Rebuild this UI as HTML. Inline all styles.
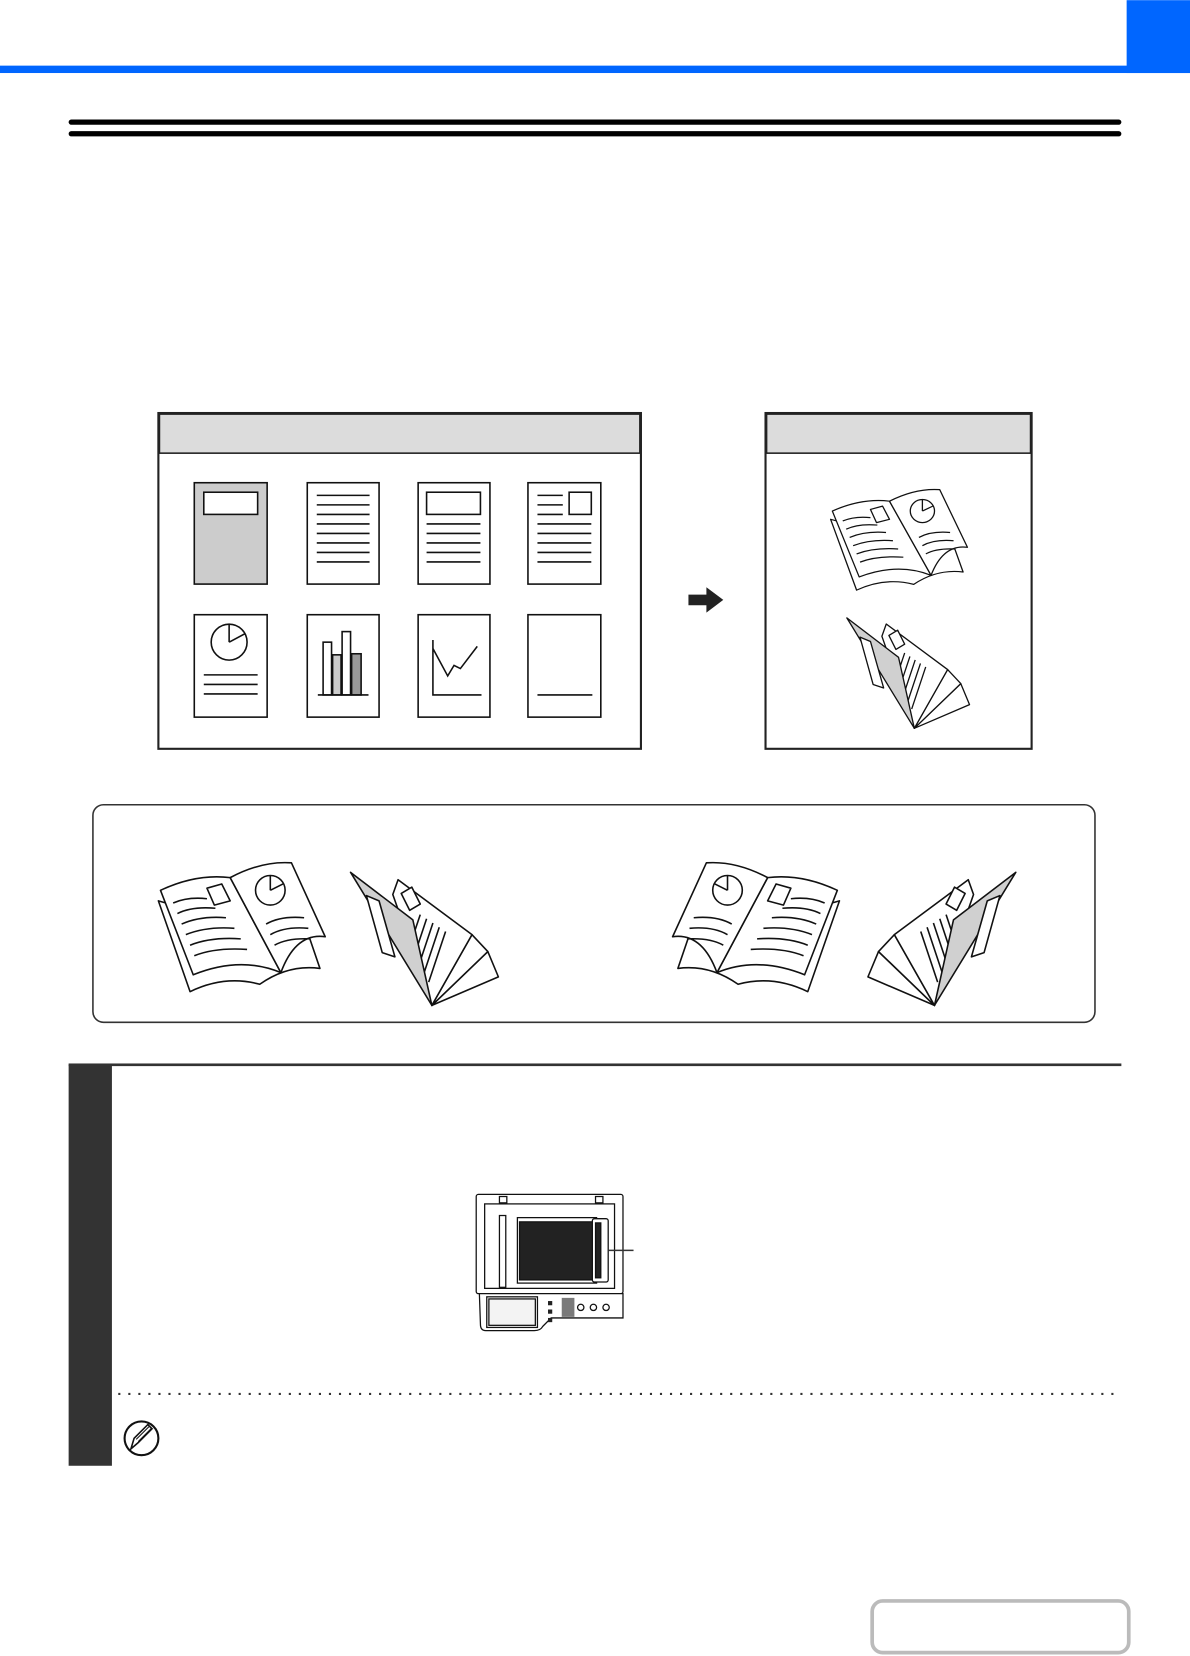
<!DOCTYPE html>
<html><head><meta charset="utf-8"><style>
html,body{margin:0;padding:0;background:#fff}
svg{display:block}
</style></head><body>
<svg width="1190" height="1656" viewBox="0 0 1127 1568" xmlns="http://www.w3.org/2000/svg">
<defs>
<g id="book" fill="#fff" stroke="#111" stroke-width="1.5" stroke-linejoin="round">
<path d="M2,38 L32,124 Q65,108 98,117 Q125,98 155,102 L140,58 L80,60 Z"/>
<path d="M4,28 Q38,12 70,16 L118,106 Q80,90 35,108 Z"/>
<path d="M70,16 Q100,0 128,2 L160,72 Q132,68 118,106 Z"/>
<g fill="none">
<path d="M16,40 Q30,34 48,36"/><path d="M20,50 Q34,43 56,45"/><path d="M24,60 Q42,52 66,54"/><path d="M28,70 Q48,62 74,64"/><path d="M32,80 Q52,72 80,74"/><path d="M36,90 Q56,82 86,84"/>
<path d="M104,60 Q118,52 140,54"/><path d="M108,70 Q122,62 144,64"/><path d="M112,80 Q124,73 146,74"/>
</g>
<path d="M48,26 L62,22 L70,38 L55,42 Z"/>
<circle cx="108" cy="28" r="14"/><path d="M108,28 L108,14 M108,28 L120,22" fill="none"/>
</g>
<g id="fold" stroke="#111" stroke-width="1.5" stroke-linejoin="round">
<path d="M77,126 L130,75 L140,99 Z" fill="#fff"/>
<path d="M77,126 L115,59 L130,75 Z" fill="#fff"/>
<path d="M45,7 L115,59 L77,126 L40,21 Z" fill="#fff"/>
<path d="M48,20 L58,14 L66,30 L56,36 Z" fill="#fff"/>
<g fill="none"><path d="M66,40 L58,64"/><path d="M72,44 L62,74"/><path d="M78,48 L66,84"/><path d="M84,52 L70,94"/><path d="M90,56 L74,104"/></g>
<path d="M0,0 L59,45 L77,126 Z" fill="#d0d0d0"/>
<path d="M15,22 L27,27 L42,80 L30,76 Z" fill="#fff"/>
</g>
<g id="page" fill="#fff" stroke="#111" stroke-width="1.5"><rect x="0" y="0" width="69" height="96"/></g>
</defs>

<!-- header -->
<rect x="0" y="62" width="1127" height="7" fill="#0066ff"/>
<rect x="1067" y="0" width="60" height="69" fill="#0066ff"/>
<rect x="65" y="113" width="997" height="5" rx="2.5" fill="#000"/>
<rect x="65" y="124" width="997" height="5" rx="2.5" fill="#000"/>

<!-- left box -->
<rect x="150" y="391" width="457" height="318" fill="#fff" stroke="#222" stroke-width="2"/>
<rect x="151" y="392" width="455" height="37" fill="#dcdcdc" stroke="#222" stroke-width="1.5"/>
<g stroke="#111" stroke-width="1.5" fill="none">
<rect x="184" y="457" width="69" height="96" fill="#cccccc"/>
<rect x="193" y="466" width="51" height="21" fill="#fff"/>
<rect x="291" y="457" width="68" height="96" fill="#fff"/>
<path d="M300,469h50M300,478h50M300,487h50M300,496h50M300,505h50M300,514h50M300,523h50M300,532h50"/>
<rect x="396" y="457" width="68" height="96" fill="#fff"/>
<rect x="404" y="466" width="51" height="21"/>
<path d="M404,496h51M404,505h51M404,514h51M404,523h51M404,532h51"/>
<rect x="500" y="457" width="69" height="96" fill="#fff"/>
<rect x="539" y="466" width="21" height="21"/>
<path d="M509,469h24M509,478h24M509,487h24M509,496h51M509,505h51M509,514h51M509,523h51M509,532h51"/>
<rect x="184" y="582" width="69" height="97" fill="#fff"/>
<circle cx="217" cy="608" r="17"/><path d="M217,608V591M217,608L232,600"/>
<path d="M193,639h51M193,648h51M193,657h51"/>
<rect x="291" y="582" width="68" height="97" fill="#fff"/>
<rect x="306" y="608" width="8" height="50"/><rect x="315" y="620" width="8" height="38" fill="#ccc"/><rect x="324" y="598" width="8" height="60"/><rect x="333" y="619" width="9" height="39" fill="#999"/>
<path d="M301,658h48"/>
<rect x="396" y="582" width="68" height="97" fill="#fff"/>
<path d="M410,606V658H456M410,614L424,640L430,630L436,633L452,612"/>
<rect x="500" y="582" width="69" height="97" fill="#fff"/>
<path d="M509,658h52"/>
</g>

<!-- arrow -->
<path d="M652,563 H669 V556 L685,568 L669,580 V573 H652 Z" fill="#222"/>

<!-- right box -->
<rect x="725" y="391" width="252" height="318" fill="#fff" stroke="#222" stroke-width="2"/>
<rect x="726" y="392" width="250" height="37" fill="#dcdcdc" stroke="#222" stroke-width="1.5"/>
<use href="#book" transform="translate(785,462) scale(0.82,0.78)"/>
<use href="#fold" transform="translate(802,585) scale(0.83,0.83)"/>

<!-- rounded box -->
<rect x="88" y="762" width="949" height="206" rx="10" fill="#fff" stroke="#333" stroke-width="1.5"/>
<use href="#book" transform="translate(148,815)"/>
<use href="#fold" transform="translate(332,826)"/>
<use href="#book" transform="translate(797,815) scale(-1,1)"/>
<use href="#fold" transform="translate(962,826) scale(-1,1)"/>

<!-- step -->
<rect x="65" y="1007" width="997" height="2.5" fill="#333"/>
<rect x="65" y="1008" width="41" height="380" fill="#333"/>
<line x1="112" y1="1320" x2="1058" y2="1320" stroke="#333" stroke-width="2" stroke-dasharray="2,7.5"/>
<circle cx="134" cy="1362" r="16" fill="#fff" stroke="#111" stroke-width="2"/>
<path d="M124,1372 L127,1362 L140,1349 L144,1353 L131,1366 Z" fill="#fff" stroke="#111" stroke-width="1.5"/>
<path d="M129,1363 L141,1351 M131,1365 L143,1353" stroke="#111" stroke-width="1"/>

<!-- scanner -->
<g stroke="#111" stroke-width="1.2" fill="#fff">
<rect x="451" y="1131" width="139" height="94" rx="2"/>
<rect x="459" y="1140" width="123" height="80"/>
<rect x="473" y="1133" width="7" height="6"/><rect x="564" y="1133" width="7" height="6"/>
<rect x="473" y="1151" width="6" height="68"/>
<rect x="490" y="1153" width="75" height="62"/>
<rect x="492" y="1157" width="71" height="55" fill="#222"/>
<rect x="561" y="1154" width="15" height="60" rx="2"/>
<rect x="564" y="1158" width="5" height="52" fill="#222"/>
<path d="M454,1225 H590 V1248 H522 L514,1256 Q512,1260 506,1260 H460 Q455,1260 455,1254 Z"/>
<rect x="461" y="1228" width="48" height="29"/>
<rect x="463" y="1230" width="44" height="25" fill="#f3f3f3"/>
<circle cx="550" cy="1238" r="3"/><circle cx="562" cy="1238" r="3"/><circle cx="574" cy="1238" r="3"/>
</g>
<g fill="#222"><rect x="519" y="1232" width="4" height="4"/><rect x="519" y="1240" width="4" height="4"/><rect x="519" y="1248" width="4" height="4"/>
<rect x="532" y="1229" width="12" height="18" opacity="0.6"/></g>
<line x1="576" y1="1184" x2="600" y2="1184" stroke="#333" stroke-width="1.5"/>

<!-- bottom button -->
<rect x="826" y="1516" width="243" height="49" rx="10" fill="#fff" stroke="#bbb" stroke-width="3.5"/>
</svg>
</body></html>
